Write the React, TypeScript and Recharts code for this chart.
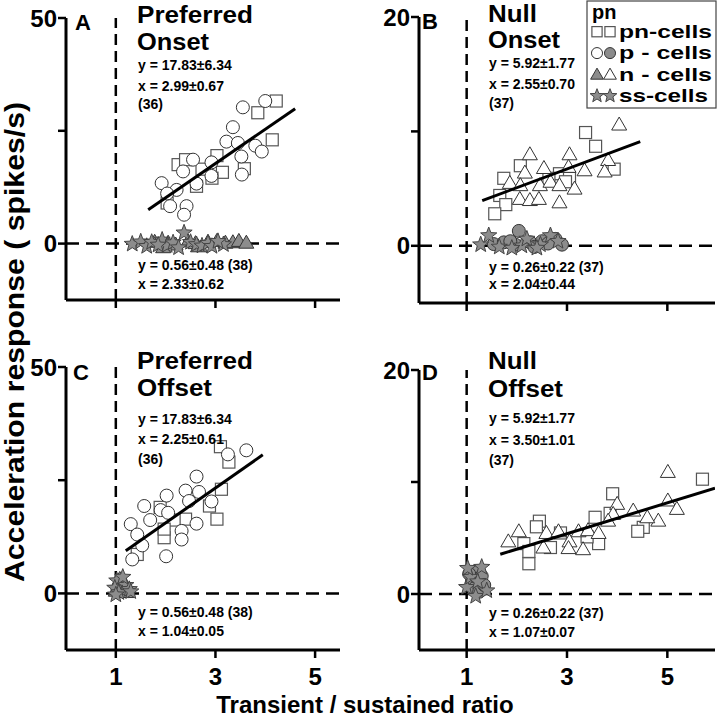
import React from "react";
import { ReferenceLine, Scatter, ScatterChart, XAxis, YAxis } from "recharts";

const FONT = '"Liberation Sans", Arial, Helvetica, sans-serif';
const GRAY = "#8c8c8c";

type Pt = { x: number; y: number };

// ---- Panel A: preferred onset ----
const aPnCells: Pt[] = [
  { x: 4.22, y: 31.6 }, { x: 3.85, y: 29.0 }, { x: 4.14, y: 23.0 }, { x: 3.03, y: 19.5 },
  { x: 2.25, y: 17.5 }, { x: 2.4, y: 18.6 }, { x: 3.14, y: 15.8 }, { x: 2.93, y: 14.5 },
  { x: 3.58, y: 16.6 }, { x: 2.62, y: 12.7 }, { x: 2.73, y: 16.5 }, { x: 2.03, y: 9.0 },
];
const aPCells: Pt[] = [
  { x: 3.55, y: 30.2 }, { x: 4.0, y: 31.6 }, { x: 3.35, y: 25.8 }, { x: 3.22, y: 22.6 },
  { x: 3.45, y: 22.3 }, { x: 3.8, y: 21.7 }, { x: 3.93, y: 20.4 }, { x: 3.52, y: 19.3 },
  { x: 2.55, y: 18.6 }, { x: 2.92, y: 18.0 }, { x: 2.35, y: 16.0 }, { x: 2.92, y: 15.0 },
  { x: 3.53, y: 15.3 }, { x: 2.62, y: 13.3 }, { x: 1.92, y: 13.4 }, { x: 2.22, y: 11.9 },
  { x: 2.03, y: 11.1 }, { x: 2.09, y: 8.3 }, { x: 2.42, y: 8.3 }, { x: 2.37, y: 6.4 },
];
const aNCells: Pt[] = [
  { x: 1.78, y: 0.4 }, { x: 2.05, y: 0.2 }, { x: 2.2, y: -0.2 }, { x: 2.45, y: 0.5 },
  { x: 2.6, y: 0.1 }, { x: 2.85, y: 0.4 }, { x: 3.03, y: 0.6 }, { x: 3.2, y: 0.2 },
  { x: 3.35, y: 0.3 }, { x: 3.47, y: 0.6 }, { x: 3.62, y: 0.2 }, { x: 1.95, y: -0.8 },
  { x: 2.65, y: -0.6 },
];
const aSsCells: Pt[] = [
  { x: 1.33, y: -0.1 }, { x: 1.5, y: 0.4 }, { x: 1.62, y: -0.6 }, { x: 1.72, y: 0.3 },
  { x: 1.93, y: 0.8 }, { x: 2.03, y: -0.4 }, { x: 2.15, y: 0.2 }, { x: 2.26, y: -0.9 },
  { x: 2.37, y: 2.4 }, { x: 2.5, y: 0.3 }, { x: 2.62, y: -0.2 }, { x: 2.73, y: -0.5 },
  { x: 2.85, y: 0.1 }, { x: 2.93, y: -0.6 }, { x: 3.16, y: -0.2 }, { x: 3.05, y: 0.5 },
  { x: 1.85, y: -0.3 },
];
const aFit: Pt[] = [{ x: 1.65, y: 7.5 }, { x: 4.6, y: 29.9 }];

// ---- Panel B: null onset ----
const bPnCells: Pt[] = [
  { x: 3.37, y: 9.9 }, { x: 3.57, y: 8.7 }, { x: 2.07, y: 7.0 }, { x: 1.74, y: 5.9 },
  { x: 2.85, y: 6.3 }, { x: 3.05, y: 5.9 }, { x: 3.94, y: 6.7 }, { x: 1.66, y: 4.4 },
  { x: 1.78, y: 3.6 }, { x: 1.56, y: 2.8 }, { x: 2.64, y: 5.9 }, { x: 2.97, y: 5.6 },
];
const bNCells: Pt[] = [
  { x: 4.04, y: 10.6 }, { x: 2.26, y: 8.0 }, { x: 3.05, y: 8.0 }, { x: 2.54, y: 6.8 },
  { x: 2.16, y: 6.4 }, { x: 3.03, y: 6.9 }, { x: 3.35, y: 6.6 }, { x: 3.82, y: 7.5 },
  { x: 3.75, y: 6.5 }, { x: 1.86, y: 5.5 }, { x: 2.07, y: 5.3 }, { x: 2.46, y: 5.3 },
  { x: 2.67, y: 5.6 }, { x: 2.85, y: 5.3 }, { x: 3.15, y: 5.0 }, { x: 2.06, y: 4.1 },
  { x: 2.26, y: 4.0 }, { x: 2.44, y: 4.1 }, { x: 2.85, y: 3.8 },
];
const bPCells: Pt[] = [
  { x: 2.04, y: 1.3 }, { x: 1.54, y: 0.15 }, { x: 1.74, y: 0.3 }, { x: 1.97, y: 0.1 },
  { x: 2.27, y: 0.3 }, { x: 2.5, y: 0.4 }, { x: 2.77, y: 0.6 }, { x: 2.9, y: 0.1 },
  { x: 1.87, y: 0.4 }, { x: 2.35, y: -0.1 }, { x: 2.62, y: 0.2 },
];
const bSsCells: Pt[] = [
  { x: 1.28, y: 0.1 }, { x: 1.44, y: 0.9 }, { x: 1.65, y: -0.1 }, { x: 2.1, y: 0.0 },
  { x: 2.47, y: 0.1 }, { x: 2.67, y: 0.9 }, { x: 2.2, y: 0.6 }, { x: 2.82, y: 0.4 },
  { x: 1.9, y: -0.2 }, { x: 2.4, y: -0.2 },
];
const bFit: Pt[] = [{ x: 1.31, y: 3.95 }, { x: 4.46, y: 9.1 }];

// ---- Panel C: preferred offset ----
const cPnCells: Pt[] = [
  { x: 3.27, y: 29.0 }, { x: 3.1, y: 32.4 }, { x: 3.12, y: 23.0 }, { x: 2.88, y: 19.3 },
  { x: 3.03, y: 16.4 }, { x: 1.89, y: 19.0 }, { x: 2.4, y: 16.4 }, { x: 2.17, y: 16.2 },
  { x: 1.97, y: 12.3 }, { x: 1.43, y: 8.6 }, { x: 1.97, y: 14.2 },
];
const cPCells: Pt[] = [
  { x: 3.62, y: 31.6 }, { x: 3.25, y: 30.7 }, { x: 2.62, y: 25.8 }, { x: 2.02, y: 21.6 },
  { x: 2.4, y: 22.7 }, { x: 2.67, y: 22.4 }, { x: 2.47, y: 20.4 }, { x: 2.92, y: 20.3 },
  { x: 1.57, y: 19.3 }, { x: 1.9, y: 18.4 }, { x: 2.05, y: 17.8 }, { x: 1.69, y: 16.2 },
  { x: 1.3, y: 15.3 }, { x: 1.43, y: 13.0 }, { x: 2.32, y: 13.8 }, { x: 2.62, y: 15.4 },
  { x: 2.32, y: 11.9 }, { x: 1.53, y: 10.6 }, { x: 1.33, y: 7.5 }, { x: 2.01, y: 8.2 },
];
const cNCells: Pt[] = [
  { x: 1.05, y: 1.2 }, { x: 1.12, y: 0.4 }, { x: 1.18, y: 2.0 }, { x: 1.0, y: 0.6 },
  { x: 1.22, y: 0.3 }, { x: 1.08, y: 3.2 },
];
const cSsCells: Pt[] = [
  { x: 1.02, y: 2.8 }, { x: 1.1, y: 1.5 }, { x: 1.15, y: 0.6 }, { x: 1.2, y: 1.8 },
  { x: 1.27, y: 0.9 }, { x: 0.98, y: 1.2 }, { x: 1.06, y: 0.2 }, { x: 1.14, y: 3.6 },
  { x: 1.3, y: 0.4 }, { x: 1.0, y: -0.3 },
];
const cFit: Pt[] = [{ x: 1.2, y: 9.4 }, { x: 3.95, y: 30.6 }];

// ---- Panel D: null offset ----
const dPnCells: Pt[] = [
  { x: 5.7, y: 10.25 }, { x: 3.91, y: 8.95 }, { x: 3.56, y: 6.85 }, { x: 3.86, y: 7.2 },
  { x: 2.45, y: 6.5 }, { x: 2.39, y: 6.0 }, { x: 4.52, y: 5.95 }, { x: 4.41, y: 5.6 },
  { x: 2.14, y: 4.5 }, { x: 2.67, y: 4.15 }, { x: 3.63, y: 4.5 }, { x: 2.24, y: 3.8 },
  { x: 2.24, y: 2.7 }, { x: 2.87, y: 5.45 }, { x: 3.4, y: 5.1 },
];
const dNCells: Pt[] = [
  { x: 5.01, y: 10.9 }, { x: 5.01, y: 8.35 }, { x: 5.19, y: 7.6 }, { x: 4.82, y: 6.55 },
  { x: 4.6, y: 6.85 }, { x: 4.32, y: 7.45 }, { x: 4.0, y: 8.05 }, { x: 3.92, y: 7.15 },
  { x: 3.82, y: 6.55 }, { x: 2.04, y: 5.6 }, { x: 1.83, y: 4.7 }, { x: 2.59, y: 5.45 },
  { x: 2.83, y: 5.6 }, { x: 3.23, y: 5.6 }, { x: 3.42, y: 5.7 }, { x: 3.63, y: 5.45 },
  { x: 3.05, y: 4.7 }, { x: 2.53, y: 4.15 }, { x: 3.03, y: 4.1 }, { x: 3.32, y: 4.0 },
];
const dPCells: Pt[] = [
  { x: 1.1, y: 1.0 }, { x: 1.2, y: 2.0 }, { x: 1.15, y: 0.5 }, { x: 1.3, y: 1.6 },
  { x: 1.05, y: 1.8 }, { x: 1.25, y: 0.2 }, { x: 1.35, y: 0.8 },
];
const dSsCells: Pt[] = [
  { x: 1.0, y: 0.6 }, { x: 1.08, y: 1.5 }, { x: 1.18, y: -0.2 }, { x: 1.3, y: 2.4 },
  { x: 1.4, y: 0.3 }, { x: 1.02, y: 2.3 }, { x: 1.22, y: 1.1 },
];
const dFit: Pt[] = [{ x: 1.67, y: 3.55 }, { x: 5.95, y: 9.45 }];

// ---- text ----
const xTicks = [1, 3, 5];
const prefTicks = [0, 25, 50];
const nullTicks = [0, 10, 20];
const panelTitles = [
  ["Preferred", "Onset"],
  ["Null", "Onset"],
  ["Preferred", "Offset"],
  ["Null", "Offset"],
];
const upperStats = [
  ["y = 17.83±6.34", "x = 2.99±0.67", "(36)"],
  ["y = 5.92±1.77", "x = 2.55±0.70", "(37)"],
  ["y = 17.83±6.34", "x = 2.25±0.61", "(36)"],
  ["y = 5.92±1.77", "x = 3.50±1.01", "(37)"],
];
const lowerStats = [
  ["y = 0.56±0.48 (38)", "x = 2.33±0.62"],
  ["y = 0.26±0.22 (37)", "x = 2.04±0.44"],
  ["y = 0.56±0.48 (38)", "x = 1.04±0.05"],
  ["y = 0.26±0.22 (37)", "x = 1.07±0.07"],
];
const legendRows = [
  { label: "pn-cells", marks: ["square", "square"] },
  { label: "p - cells", marks: ["circle", "grayCircle"] },
  { label: "n - cells", marks: ["grayTriangle", "triangle"] },
  { label: "ss-cells", marks: ["star", "star"] },
];

// rendered widths of the title words in the figure (px)
const titleWidth: Record<string, number> = { Preferred: 116, Onset: 72, Null: 49, Offset: 75 };

// ---- marker shapes ----
function Mark({ kind, cx, cy, s = 1 }: { kind: string; cx: number; cy: number; s?: number }) {
  if (kind === "square")
    return (
      <rect x={cx - 6 * s} y={cy - 6 * s} width={12 * s} height={12 * s} fill="#fff" stroke="#555" strokeWidth={1.2} />
    );
  if (kind === "circle" || kind === "grayCircle")
    return (
      <circle cx={cx} cy={cy} r={6.5 * s} fill={kind === "circle" ? "#fff" : GRAY} stroke="#333" strokeWidth={1} />
    );
  if (kind === "triangle" || kind === "grayTriangle")
    return (
      <path
        d={`M${cx},${cy - 7.5 * s}L${cx + 7.5 * s},${cy + 5.5 * s}L${cx - 7.5 * s},${cy + 5.5 * s}Z`}
        fill={kind === "triangle" ? "#fff" : GRAY}
        stroke="#333"
        strokeWidth={1}
      />
    );
  const pts: string[] = [];
  for (let i = 0; i < 10; i++) {
    const r = (i % 2 === 0 ? 8.5 : 3.6) * s;
    const a = -Math.PI / 2 + (i * Math.PI) / 5;
    pts.push(`${cx + r * Math.cos(a)},${cy + r * Math.sin(a)}`);
  }
  return <polygon points={pts.join(" ")} fill={GRAY} stroke="#444" strokeWidth={1} />;
}

const shapeOf = (kind: string) => (p: any) => <Mark kind={kind} cx={p.cx} cy={p.cy} />;

interface PanelProps {
  left: number;
  top: number;
  width: number;
  height: number;
  marginTop: number;
  yWidth: number;
  xHeight: number;
  xDomain: [number, number];
  yDomain: [number, number];
  yTicks: number[];
  showXLabels: boolean;
  series: { data: Pt[]; kind: string }[];
  fit: Pt[];
}

function Panel(p: PanelProps) {
  const tickStyle = { fontSize: 24, fontWeight: 700, fill: "#000", fontFamily: FONT };
  return (
    <div style={{ position: "absolute", left: p.left, top: p.top }}>
      <ScatterChart
        width={p.width}
        height={p.height}
        margin={{ top: p.marginTop, right: 3, bottom: 0, left: 0 }}
      >
        <XAxis
          type="number"
          dataKey="x"
          domain={p.xDomain}
          ticks={xTicks}
          interval={0}
          allowDataOverflow
          height={p.xHeight}
          axisLine={{ stroke: "#000", strokeWidth: 3 }}
          tickLine={{ stroke: "#000", strokeWidth: 2.5 }}
          tickSize={8}
          tickMargin={10}
          tick={tickStyle}
          tickFormatter={(v) => (p.showXLabels ? String(v) : "")}
        />
        <YAxis
          type="number"
          dataKey="y"
          domain={p.yDomain}
          ticks={p.yTicks}
          interval={0}
          allowDataOverflow
          width={p.yWidth}
          axisLine={{ stroke: "#000", strokeWidth: 3 }}
          tickLine={{ stroke: "#000", strokeWidth: 2.5 }}
          tickSize={8}
          tickMargin={1}
          tick={tickStyle}
          tickFormatter={(v) => (v === p.yTicks[1] ? "" : String(v))}
        />
        <ReferenceLine x={1} stroke="#000" strokeWidth={2.5} strokeDasharray="11 6" />
        <ReferenceLine y={0} stroke="#000" strokeWidth={2.5} strokeDasharray="13 7" />
        {p.series.map((s, i) => (
          <Scatter key={i} data={s.data} shape={shapeOf(s.kind)} isAnimationActive={false} />
        ))}
        <Scatter
          data={p.fit}
          line={{ stroke: "#000", strokeWidth: 3 }}
          shape={() => <g />}
          isAnimationActive={false}
        />
      </ScatterChart>
    </div>
  );
}

const bold = { fontFamily: FONT, fontWeight: 700, fill: "#000" } as const;

function PanelText({ i, lx, ly, tx, ty, sy, ly2 }: { i: number; lx: number; ly: number; tx: number; ty: number[]; sy: number[]; ly2: number[] }) {
  return (
    <g>
      <text x={lx} y={ly} fontSize={22} {...bold}>
        {"ABCD"[i]}
      </text>
      {panelTitles[i].map((t, k) => (
        <text
          key={t}
          x={tx}
          y={ty[k]}
          fontSize={23}
          textLength={titleWidth[t]}
          lengthAdjust="spacingAndGlyphs"
          {...bold}
        >
          {t}
        </text>
      ))}
      {upperStats[i].map((t, k) => (
        <text key={k} x={tx + 1} y={sy[k]} fontSize={14} {...bold}>
          {t}
        </text>
      ))}
      {lowerStats[i].map((t, k) => (
        <text key={"l" + k} x={tx + 1} y={ly2[k]} fontSize={14} {...bold}>
          {t}
        </text>
      ))}
    </g>
  );
}

export default function App() {
  return (
    <div style={{ position: "absolute", left: 0, top: 0, width: 718, height: 720, background: "#fff", fontFamily: FONT }}>
      <Panel
        left={0} top={0} width={343} height={330} marginTop={18} yWidth={66} xHeight={30}
        xDomain={[0, 5.5]} yDomain={[-12.5, 50]} yTicks={prefTicks} showXLabels={false}
        series={[
          { data: aPnCells, kind: "square" },
          { data: aPCells, kind: "circle" },
          { data: aNCells, kind: "grayTriangle" },
          { data: aSsCells, kind: "star" },
        ]}
        fit={aFit}
      />
      <Panel
        left={360} top={0} width={358} height={333} marginTop={17} yWidth={59} xHeight={30}
        xDomain={[0.05, 5.95]} yDomain={[-5, 20]} yTicks={nullTicks} showXLabels={false}
        series={[
          { data: bPnCells, kind: "square" },
          { data: bNCells, kind: "triangle" },
          { data: bPCells, kind: "grayCircle" },
          { data: bSsCells, kind: "star" },
        ]}
        fit={bFit}
      />
      <Panel
        left={0} top={340} width={343} height={355} marginTop={27} yWidth={66} xHeight={45}
        xDomain={[0, 5.5]} yDomain={[-12.5, 50]} yTicks={prefTicks} showXLabels
        series={[
          { data: cPnCells, kind: "square" },
          { data: cPCells, kind: "circle" },
          { data: cNCells, kind: "grayTriangle" },
          { data: cSsCells, kind: "star" },
        ]}
        fit={cFit}
      />
      <Panel
        left={360} top={340} width={358} height={355} marginTop={30} yWidth={59} xHeight={45}
        xDomain={[0.05, 5.95]} yDomain={[-5, 20]} yTicks={nullTicks} showXLabels
        series={[
          { data: dPnCells, kind: "square" },
          { data: dNCells, kind: "triangle" },
          { data: dPCells, kind: "grayCircle" },
          { data: dSsCells, kind: "star" },
        ]}
        fit={dFit}
      />
      <svg width={718} height={720} style={{ position: "absolute", left: 0, top: 0, pointerEvents: "none" }}>
        <PanelText i={0} lx={75} ly={30} tx={137} ty={[23, 49.5]} sy={[69.5, 90.5, 109]} ly2={[270, 289]} />
        <PanelText i={1} lx={422} ly={29} tx={488} ty={[22, 48]} sy={[68.3, 89.3, 108]} ly2={[271.7, 289.3]} />
        <PanelText i={2} lx={73} ly={380} tx={137} ty={[369.3, 396]} sy={[424, 444, 464]} ly2={[617.3, 636]} />
        <PanelText i={3} lx={422} ly={380} tx={488} ty={[369.3, 396.7]} sy={[422.7, 445, 465]} ly2={[617.7, 636.7]} />

        <rect x={587} y={1} width={129} height={107} fill="#fff" stroke="#444" strokeWidth={1.2} />
        <text x={592} y={19} fontSize={20} {...bold}>pn</text>
        {legendRows.map((r, k) => {
          const cy = 31.7 + k * 21.4;
          return (
            <g key={r.label}>
              <Mark kind={r.marks[0]} cx={597} cy={cy} s={0.85} />
              <Mark kind={r.marks[1]} cx={610} cy={cy} s={0.85} />
              <text x={619} y={cy + 6} fontSize={19} textLength={k === 3 ? 89 : 93} lengthAdjust="spacingAndGlyphs" {...bold}>
                {r.label}
              </text>
            </g>
          );
        })}

        <text x={365} y={713} fontSize={24} textAnchor="middle" {...bold}>
          Transient / sustained ratio
        </text>
        <text
          x={24}
          y={342}
          fontSize={27}
          textAnchor="middle"
          textLength={480}
          lengthAdjust="spacingAndGlyphs"
          transform="rotate(-90 24 342)"
          {...bold}
        >
          Acceleration response ( spikes/s)
        </text>
      </svg>
    </div>
  );
}
